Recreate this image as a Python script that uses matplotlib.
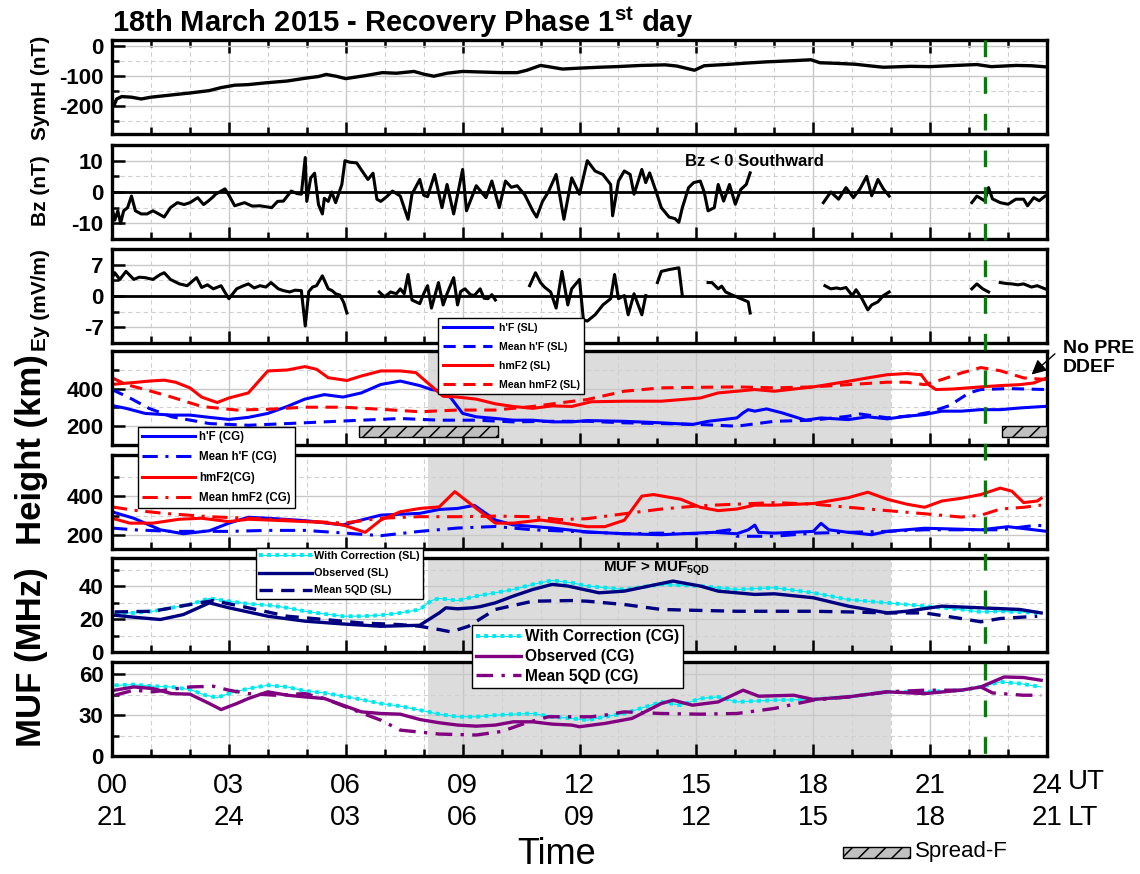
import numpy as np
import matplotlib.pyplot as plt
from matplotlib.patches import Rectangle
from matplotlib.lines import Line2D
from matplotlib.transforms import blended_transform_factory

plt.rcParams['font.family'] = ['Liberation Sans', 'DejaVu Sans']
plt.rcParams['hatch.linewidth'] = 1.1

nan = np.nan

# ---------------- data (UT hours) ----------------
symh_t = [0.0, 0.05, 0.12, 0.25, 0.5, 0.75, 1.0, 1.5, 2.0, 2.5, 2.8, 3.15, 3.5, 3.95, 4.5, 5.0, 5.3,
          5.5, 5.75, 6.0, 6.5, 6.94, 7.3, 7.75, 8.0, 8.26, 8.6, 9.0, 9.5, 10.0, 10.4, 10.65, 11.0,
          11.2, 11.56, 12.0, 12.5, 12.94, 13.58, 14.2, 14.5, 14.95, 15.2, 15.87, 16.3, 16.8, 17.5,
          17.94, 18.17, 18.6, 19.08, 19.5, 19.8, 20.5, 21.0, 21.65, 22.2, 22.57, 23.2, 23.6, 24.0]
symh = [-195, -200, -178, -170, -172, -178, -172, -165, -158, -150, -140, -132, -130, -124, -118,
        -108, -103, -96, -102, -110, -100, -90, -92, -86, -95, -102, -92, -86, -88, -90, -90, -82,
        -66, -70, -78, -75, -72, -70, -66, -64, -68, -82, -67, -62, -58, -54, -50, -47, -57, -59,
        -62, -68, -72, -69, -70, -66, -63, -70, -66, -67, -71]

bz_t = [0.0, 0.07, 0.15, 0.22, 0.3, 0.4, 0.5, 0.6, 0.75, 0.9, 1.05, 1.2, 1.34, 1.5, 1.68, 1.85, 2.0,
        2.2, 2.35, 2.46, 2.6, 2.66, 2.9, 3.0, 3.15, 3.4, 3.6, 3.8, 4.1, 4.25, 4.4, 4.6, 4.75, 4.86,
        4.96, 5.0, 5.1, 5.2, 5.3, 5.4, 5.45, 5.55, 5.64, 5.74, 5.9, 5.98, 6.1, 6.28, 6.42, 6.57, 6.7,
        6.8, 6.9, 7.05, 7.2, 7.4, 7.6, 7.7, 7.9, 8.0, 8.1, 8.28, 8.47, 8.6, 8.77, 9.0, 9.1, 9.35,
        9.6, 9.75, 9.94, 10.1, 10.25, 10.4, 10.6, 10.8, 10.9, 11.05, 11.2, 11.4, 11.6, 11.8, 12.0,
        12.2, 12.4, 12.6, 12.8, 12.85, 13.0, 13.15, 13.3, 13.4, 13.6, 13.7, 13.8, 13.97, 14.1, 14.3,
        14.45, 14.55, 14.64, 14.8, 14.93, 15.1, 15.2, 15.3, 15.46, 15.56, 15.7, 15.85, 16.0, 16.14,
        16.28, 16.38, 17.3,
        18.26, 18.45, 18.65, 18.84, 19.03, 19.2, 19.37, 19.5, 19.66, 19.8, 19.95, 21.0,
        22.07, 22.2, 22.4, 22.5, 22.6, 22.8, 23.0, 23.2, 23.4, 23.5, 23.66, 23.8, 23.95]
bz = [-5, -9, -6, -10, -6, -5, -1.3, -6, -7, -7, -6, -7, -8, -5, -3.4, -4, -3.4, -1.8, -4, -3, -1.5,
      -0.7, 1, -1, -4.4, -3.4, -4.5, -4.4, -5, -3, -2.9, 0.3, -0.5, -0.7, 11, -3, 4.5, 6, -4, -7, -2,
      -3, 0, -3.4, 2.4, 10, 9.5, 9.3, 6.7, 4, 6, -2.3, -3, -1.5, 0.3, -1.3, -8.7, -0.7, 4, -1, -1.5,
      5.6, -5, 2.4, -7, 7.2, -6, 2, -1.8, 3.5, -5, 3.5, 1.5, 2, -1, -6, -8, -3, 0, 5.6, -8.7, 4.5,
      -0.7, 10, 6.7, 5.6, 2.4, -7.6, 3.5, 6.7, 5.6, -0.7, 7.2, 3, 6.1, 0, -5, -8, -8.5, -9.7, -5,
      1.4, 3, 3.5, 0, -6, -5, 2.4, -2.9, 2.4, -3.9, 0.8, 2.4, 6.1, nan,
      -3.4, 0, -2.3, 1.4, -1.8, 1, 5, -1.2, 4, 1, -1.3, nan,
      -3.4, -1.3, -2.8, 1.4, -2.2, -3.4, -3.9, -2.3, -2.3, -4.4, -1.8, -2.8, -1.3]

ey_t = [0.0, 0.07, 0.2, 0.36, 0.56, 0.7, 0.85, 1.05, 1.24, 1.34, 1.5, 1.73, 1.93, 2.05, 2.17, 2.3,
        2.45, 2.6, 2.8, 2.9, 3.0, 3.2, 3.35, 3.5, 3.65, 3.8, 3.95, 4.08, 4.27, 4.4, 4.56, 4.7, 4.86,
        4.96, 5.05, 5.15, 5.25, 5.4, 5.55, 5.65, 5.74, 5.85, 5.95, 6.03, 6.4,
        6.86, 7.0, 7.15, 7.3, 7.4, 7.5, 7.6, 7.7, 7.9, 8.0, 8.1, 8.2, 8.38, 8.5, 8.6, 8.77, 8.87,
        8.95, 9.06, 9.2, 9.3, 9.45, 9.55, 9.65, 9.75, 9.84, 10.3,
        10.72, 10.87, 11.0, 11.1, 11.26, 11.4, 11.55, 11.7, 11.8, 12.0, 12.1, 12.2, 12.4, 12.6,
        12.8, 12.9, 13.0, 13.15, 13.25, 13.4, 13.6, 13.7, 13.85,
        14.0, 14.1, 14.3, 14.55, 14.64, 15.0,
        15.3, 15.4, 15.56, 15.65, 15.75, 15.95, 16.14, 16.33, 16.38, 17.3,
        18.3, 18.45, 18.6, 18.7, 18.84, 19.0, 19.1, 19.25, 19.4, 19.5, 19.66, 19.8, 19.95, 21.0,
        22.07, 22.2, 22.35, 22.5, 22.65,
        22.8, 22.95, 23.1, 23.25, 23.4, 23.6, 23.75, 23.95]
ey = [4, 5.2, 3.7, 5.5, 3.7, 4.2, 4.1, 3.7, 4.8, 5.2, 3.7, 2.7, 2.3, 3.2, 4.1, 1.9, 2.5, 1.6, 2.3,
      0.8, -0.6, 1.6, 2.2, 2.7, 1.8, 2.3, 2.0, 3, 1.6, 1.2, 0.9, 1.3, 1.2, -6.7, 1.0, 2.0, 2.3, 4.5,
      1.6, 1.2, 0.5, 0.2, -1.5, -3.8, nan,
      0.9, -0.2, 0.9, 0.5, 1.6, 0.5, 4.8, -0.9, -1.7, 0.5, 2.3, -2.7, 3, -2, 0.5, 4.1, -2, 1, 1.6,
      0.3, 0.1, 1.6, -0.5, -0.6, 0.3, -0.9, nan,
      2.3, 5.2, 3, 2.0, 0.9, -2.7, 5.5, -2, 1.6, 3.7, -5.3, -5.6, -4.2, -2, -0.6, 4.8, -0.6, 0.1,
      -4.2, 0.5, -4.2, 0.1, nan,
      3, 5.5, 5.9, 6.3, 0, nan,
      3, 3, 1.6, 2.2, 0.9, 0.1, -0.6, -1.3, -3.8, nan,
      2.3, 1.6, 1.8, 1.6, 1.9, 0.1, 1.4, -0.6, -3.1, -2, -1.3, 0.1, 0.9, nan,
      1.6, 2.7, 1.6, 0.9, nan,
      3, 2.8, 2.7, 2.5, 2.7, 2.0, 2.3, 1.6]

# Sao Luis heights (km)
hmf2_sl_t = [0, 0.26, 0.65, 0.95, 1.34, 1.63, 2.0, 2.3, 2.7, 3.0, 3.5, 4.0, 4.5, 4.95, 5.25, 5.55,
             6.03, 6.4, 6.9, 7.4, 7.8, 8.1, 8.5, 8.87, 9.35, 9.84, 10.3, 10.8, 11.3, 11.8, 12.3,
             13.15, 14.1, 15.1, 15.56, 16.04, 16.5, 17.0, 18.0, 18.9, 19.4, 19.9, 20.4, 20.77,
             20.96, 21.15, 21.6, 22.3, 22.8, 23.3, 23.66, 24.0]
hmf2_sl = [422, 427, 434, 440, 445, 434, 404, 355, 326, 350, 377, 494, 499, 517, 503, 458, 443, 467,
           494, 494, 485, 431, 359, 355, 344, 319, 305, 295, 308, 305, 330, 333, 333, 350, 377, 386,
           395, 386, 409, 439, 457, 474, 480, 474, 421, 395, 398, 409, 416, 421, 430, 457]
mhmf2_sl_t = [0, 0.36, 0.85, 1.53, 2.3, 3.2, 4.0, 4.95, 5.93, 6.9, 7.9, 8.87, 9.84, 10.8, 11.8,
              12.2, 13.15, 14.1, 15.1, 16.04, 17.0, 18.0, 18.9, 19.9, 20.4, 20.86, 21.3, 21.8,
              22.3, 22.8, 23.4, 24.0]
mhmf2_sl = [458, 422, 395, 355, 305, 286, 290, 301, 301, 290, 277, 286, 286, 305, 332, 342, 386,
            404, 407, 409, 404, 409, 421, 434, 434, 421, 448, 483, 512, 495, 457, 448]
hpf_sl_t = [0, 0.36, 0.85, 1.53, 2.0, 2.5, 3.0, 3.5, 4.0, 4.5, 4.95, 5.45, 5.93, 6.4, 6.9, 7.4, 7.9,
            8.2, 8.5, 8.7, 9.0, 9.35, 9.84, 10.3, 10.8, 11.3, 11.8, 12.2, 13.15, 14.1, 14.9, 15.3,
            16.04, 16.2, 16.33, 16.5, 16.8, 17.2, 17.8, 18.2, 18.9, 19.4, 19.9, 20.4, 20.86, 21.3,
            21.8, 22.3, 22.8, 23.3, 24.0]
hpf_sl = [310, 295, 268, 259, 259, 247, 236, 247, 268, 305, 344, 368, 355, 377, 422, 440, 416, 395,
          386, 350, 268, 250, 241, 232, 232, 223, 223, 230, 226, 218, 209, 226, 244, 271, 288, 280,
          292, 271, 232, 244, 235, 250, 239, 253, 262, 280, 280, 288, 288, 297, 306]
mhpf_sl_t = [0, 0.46, 0.95, 1.53, 2.5, 3.5, 4.5, 5.45, 6.4, 7.4, 8.4, 9.35, 10.3, 11.2, 12.2, 13.15,
             14.1, 15.1, 16.04, 17.0, 18.0, 18.9, 19.2, 19.9, 20.5, 21.0, 21.5, 22.0, 22.3, 23.0, 24.0]
mhpf_sl = [395, 350, 295, 250, 214, 205, 214, 223, 232, 241, 232, 232, 223, 226, 226, 218, 214, 209,
           200, 226, 232, 253, 265, 245, 255, 275, 310, 377, 395, 400, 395]

# Cachoeira Paulista heights (km)
hmf2_cg_t = [0, 0.46, 1.05, 1.73, 2.3, 3.0, 3.5, 4.0, 4.95, 5.45, 5.93, 6.5, 6.9, 7.4, 7.9, 8.4, 8.8,
             9.25, 9.84, 10.3, 11.0, 11.6, 12.2, 12.65, 13.15, 13.6, 13.9, 14.6, 15.1, 15.56, 16.04,
             16.5, 17.0, 18.0, 18.9, 19.4, 19.9, 20.4, 20.86, 21.3, 21.8, 22.3, 22.8, 23.1, 23.4,
             23.75, 23.85]
hmf2_cg = [287, 262, 262, 282, 287, 270, 282, 278, 270, 265, 253, 215, 278, 320, 337, 345, 423, 353,
           262, 262, 278, 262, 244, 244, 277, 400, 408, 384, 343, 326, 334, 354, 354, 362, 392, 420,
           384, 359, 343, 375, 389, 408, 441, 425, 367, 375, 389]
mhmf2_cg_t = [0, 0.56, 1.34, 2.5, 3.5, 4.5, 5.93, 6.9, 7.9, 8.87, 9.84, 10.8, 11.5, 12.2, 13.15,
              14.1, 15.1, 16.04, 17.0, 18.0, 18.9, 19.9, 20.86, 21.8, 22.3, 22.8, 23.4, 23.85]
mhmf2_cg = [345, 328, 312, 295, 287, 278, 262, 287, 295, 295, 298, 295, 280, 285, 310, 334, 351,
            359, 367, 359, 343, 326, 310, 293, 302, 334, 343, 354]
hpf_cg_t = [0, 0.56, 1.24, 1.83, 2.5, 3.0, 3.5, 4.0, 4.95, 5.93, 6.4, 6.9, 7.9, 8.4, 8.87, 9.3, 9.84,
            10.3, 11.3, 12.2, 13.15, 14.1, 15.46, 16.04, 16.33, 16.5, 16.6, 17.0, 18.0, 18.2, 18.4,
            18.9, 19.5, 19.9, 20.86, 21.8, 22.3, 23.0, 24.0]
hpf_cg = [320, 287, 228, 208, 223, 262, 292, 287, 275, 253, 278, 303, 312, 332, 337, 353, 278, 253,
          237, 217, 208, 203, 215, 208, 228, 252, 215, 211, 220, 261, 228, 215, 203, 220, 236, 231,
          228, 244, 220]
mhpf_cg_t = [0, 0.56, 1.53, 3.0, 4.0, 4.95, 5.93, 6.9, 7.9, 8.87, 9.84, 10.8, 11.8, 13.15, 14.1, 15.1,
             15.85, 16.04, 17.0, 18.0, 18.9, 19.9, 20.86, 21.8, 22.8, 23.75, 24.0]
mhpf_cg = [237, 228, 220, 220, 225, 225, 212, 198, 220, 237, 245, 228, 220, 208, 211, 208, 228, 195,
           195, 211, 215, 220, 228, 228, 228, 252, 244]

# MUF Sao Luis (MHz)
muf_corr_sl_t = [0.07, 0.56, 1.05, 1.53, 2.0, 2.5, 3.0, 3.5, 4.0, 4.5, 4.95, 5.45, 5.93, 6.4, 6.9,
                 7.4, 7.9, 8.2, 8.4, 8.87, 9.35, 9.84, 10.3, 10.8, 11.3, 11.8, 12.2, 13.15, 14.1,
                 15.1, 16.04, 17.0, 18.0, 18.9, 19.9, 20.86, 21.8, 22.3, 22.8, 23.85]
muf_corr_sl = [23.7, 23.7, 24.7, 26.8, 28.8, 32.5, 30.8, 29.2, 28.4, 26.8, 24.7, 23.1, 21.7, 21.7,
               22.3, 23.7, 25.8, 31.2, 32.5, 31.2, 33.9, 35.9, 37.9, 41, 43.4, 42, 40, 37.9, 41, 40,
               37.9, 39, 35.9, 31.8, 29.8, 27.8, 25.8, 24.3, 24.7, 23.7]
muf_obs_sl_t = [0.07, 0.56, 1.24, 1.83, 2.5, 3.0, 4.0, 4.95, 5.93, 6.9, 7.9, 8.4, 8.57, 8.87, 9.25,
                9.45, 9.84, 10.3, 10.8, 11.3, 11.7, 12.5, 13.15, 14.4, 15.1, 15.56, 16.5, 17.0,
                18.0, 18.9, 19.9, 20.4, 21.3, 22.3, 23.3, 23.85]
muf_obs_sl = [22.3, 21.1, 19.7, 22.7, 29.8, 26.8, 21.7, 18.7, 17, 15.6, 16.2, 23.7, 26.8, 26.2,
              26.8, 27.5, 29.8, 33.9, 37.9, 41, 40, 35.9, 36.9, 43, 40, 36.9, 34.9, 35.3, 32.9,
              27.8, 23.7, 24.7, 27.8, 26.8, 25.8, 23.7]
muf_5qd_sl_t = [0.07, 1.05, 2.0, 2.6, 3.5, 4.5, 5.45, 6.4, 7.4, 7.9, 8.4, 8.7, 9.15, 9.84, 10.8,
                11.8, 12.2, 13.15, 14.1, 15.1, 16.04, 17.0, 18.0, 18.9, 19.9, 20.86, 21.8, 22.3,
                22.8, 23.75]
muf_5qd_sl = [24.3, 24.7, 28.8, 31.2, 26.8, 21.7, 19.7, 17.6, 16.6, 15.6, 13.6, 12.2, 15.6, 25.8,
              30.8, 31.2, 30.8, 28.8, 25.8, 25.2, 24.7, 24.7, 24.7, 24.3, 23.7, 23.7, 20.3, 18.3,
              20.3, 21.7]

# MUF Cachoeira Paulista (MHz)
muf_corr_cg_t = [0.07, 0.56, 1.05, 1.53, 2.0, 2.4, 2.7, 3.0, 3.5, 4.0, 4.5, 4.95, 5.45, 5.93, 6.4,
                 6.9, 7.4, 7.9, 8.4, 8.87, 9.35, 9.84, 10.3, 10.8, 11.3, 11.8, 12.2, 12.65, 13.15,
                 14.1, 14.6, 15.1, 15.56, 16.04, 17.0, 18.0, 18.9, 19.9, 20.86, 21.8, 22.3, 22.8,
                 23.3, 23.85]
muf_corr_cg = [51.9, 52.4, 51.2, 50.7, 48.8, 44.6, 42.9, 45.8, 49.5, 51.9, 50.7, 47.8, 46.3, 43.9,
               41.5, 38.5, 36.6, 33.7, 30.7, 28.8, 28.8, 30, 30.7, 31.2, 28.8, 27.6, 26.3, 28.8,
               31.2, 39.7, 37.3, 42.2, 43.4, 39.7, 41, 41.5, 43.4, 47.1, 47.1, 48.3, 50.7, 54.4,
               53.2, 50.7]
muf_obs_cg_t = [0.07, 0.56, 1.05, 1.53, 2.0, 2.5, 2.8, 3.2, 3.5, 4.0, 4.5, 4.95, 5.45, 5.93, 6.4,
                6.9, 7.4, 7.9, 8.4, 8.87, 9.35, 9.84, 10.3, 10.8, 11.3, 11.8, 12.0, 12.65, 13.35,
                14.1, 14.4, 14.9, 15.56, 16.2, 16.6, 17.5, 18.0, 18.9, 19.9, 20.86, 21.8, 22.3,
                22.9, 23.4, 23.85]
muf_obs_cg = [48.3, 50.7, 49.5, 45.8, 45.4, 38.5, 34.1, 38.5, 42.2, 47.1, 44.6, 43.4, 42.2, 37.3,
              32.4, 31.2, 30.7, 26.8, 24.4, 22.7, 21.9, 22.7, 25.1, 25.1, 23.4, 22.7, 21.5, 23.9,
              27.6, 38.5, 41, 37.3, 39.7, 48.3, 43.9, 44.6, 41.5, 43.4, 47.1, 45.8, 48.3, 50.7, 58,
              57.6, 55.6]
muf_5qd_cg_t = [0.07, 0.56, 1.05, 2.0, 2.6, 3.0, 3.5, 4.2, 4.95, 5.45, 6.1, 6.9, 7.4, 8.4, 9.35,
                10.0, 10.6, 11.2, 12.3, 12.65, 13.15, 14.1, 15.1, 16.04, 17.0, 18.0, 18.9, 19.9,
                20.86, 21.8, 22.3, 22.6, 23.4, 23.85]
muf_5qd_cg = [44.6, 48.3, 47.1, 50.7, 51.2, 48.3, 45.8, 44.6, 45.8, 42.2, 34.9, 26.3, 19, 16.1,
              15.4, 18, 24, 28.8, 28.8, 30, 32.4, 31.2, 30.7, 31.2, 34.9, 41, 43.4, 47.1, 48.3,
              48.3, 50.7, 46.3, 44.6, 44.6]

ut_labels = ['00', '03', '06', '09', '12', '15', '18', '21', '24']
lt_labels = ['21', '24', '03', '06', '09', '12', '15', '18', '21']
disturbed = (8.1, 20.0)        # grey shaded interval
event_time = 22.4              # green dashed line
spread_f_sl = [(6.35, 9.9), (22.85, 24.0)]

# ---------------- figure ----------------
W, H = 1140, 874
fig = plt.figure(figsize=(W / 100, H / 100), dpi=100)
left, right = 112, 1047
tops = [40, 145, 249, 351, 455, 558, 662]
ph = 94
axes = [fig.add_axes([left / W, 1 - (t + ph) / H, (right - left) / W, ph / H]) for t in tops]


def style(ax, ylim, major, minor):
    ax.set_xlim(0, 24)
    ax.set_ylim(*ylim)
    ax.set_xticks(np.arange(0, 25, 3))
    ax.set_xticks(np.arange(0, 25, 1), minor=True)
    ax.set_yticks(major)
    ax.set_yticks(minor, minor=True)
    ax.set_yticklabels([str(m) for m in major], fontsize=16, fontweight='bold')
    ax.grid(which='major', color='#c8c8c8', lw=1.0, ls='-')
    ax.grid(which='minor', color='#d0d0d0', lw=0.8, ls=(0, (4, 3)))
    ax.set_axisbelow(True)
    ax.tick_params(which='both', direction='in', width=1.8, colors='black')
    ax.tick_params(which='major', length=9)
    ax.tick_params(which='minor', length=5)
    ax.tick_params(axis='y', pad=6)
    ax.tick_params(axis='x', labelbottom=False)
    for s in ax.spines.values():
        s.set_linewidth(2.4)


def add_legend(ax, handles, labels, x0, y0, size, hl, tpad, lsp, bpad):
    leg = ax.legend(handles=handles, labels=labels, loc='upper left',
                    bbox_to_anchor=(x0 / W, 1 - y0 / H), bbox_transform=fig.transFigure,
                    borderaxespad=0, fancybox=False, framealpha=1, edgecolor='black',
                    prop={'weight': 'bold', 'size': size},
                    handlelength=hl, handletextpad=tpad, labelspacing=lsp, borderpad=bpad)
    leg.get_frame().set_linewidth(1.0)
    return leg


style(axes[0], (-295, 19), [-200, -100, 0], [-250, -150, -50])
style(axes[1], (-15, 15), [-10, 0, 10], [-5, 5])
style(axes[2], (-10.5, 10.5), [-7, 0, 7], [-3.5, 3.5])
style(axes[3], (100, 600), [200, 400], [300, 500])
style(axes[4], (130, 610), [200, 400], [300, 500])
style(axes[5], (0, 57), [0, 20, 40], [10, 30, 50])
style(axes[6], (0, 69), [0, 30, 60], [15, 45])
axes[0].tick_params(which='both', top=True)

ax7 = axes[6]
ax7.tick_params(axis='x', labelbottom=True, labelsize=20, pad=12)
ax7.set_xticklabels([u + '\n' + l for u, l in zip(ut_labels, lt_labels)], linespacing=1.3)

# shaded interval
for ax in axes[3:]:
    ax.axvspan(*disturbed, color='#dcdcdc', zorder=0, lw=0)

# panel 1-3
axes[0].plot(symh_t, symh, color='black', lw=2.4)
axes[1].axhline(0, color='black', lw=2.0)
axes[1].plot(bz_t, bz, color='black', lw=2.2)
axes[2].axhline(0, color='black', lw=2.0)
axes[2].plot(ey_t, ey, color='black', lw=2.2)
axes[1].text(14.7, 9.7, 'Bz < 0 Southward', fontsize=12, fontweight='bold', va='center')

# heights
dash_sl = (0, (4, 2.5))
dash_cg = (0, (5, 2.5, 1, 2.5))
ax4, ax5 = axes[3], axes[4]
l1, = ax4.plot(hpf_sl_t, hpf_sl, color='#0000ff', lw=2.2)
l2, = ax4.plot(mhpf_sl_t, mhpf_sl, color='#0000ff', lw=2.2, ls=dash_sl)
l3, = ax4.plot(hmf2_sl_t, hmf2_sl, color='#ff0000', lw=2.2)
l4, = ax4.plot(mhmf2_sl_t, mhmf2_sl, color='#ff0000', lw=2.2, ls=dash_sl)
for a, b in spread_f_sl:
    ax4.add_patch(Rectangle((a, 140), b - a, 60, facecolor='#c0c0c0', edgecolor='black',
                            hatch='//', lw=1.0, zorder=3, clip_on=True))
add_legend(ax4, [l1, l2, l3, l4], ["h'F (SL)", "Mean h'F (SL)", 'hmF2 (SL)', 'Mean hmF2 (SL)'],
           438, 318, 7.6, 4.7, 0.6, 0.85, 0.45)
ax4.annotate('', xy=(23.55, 465), xytext=(1057 / W, 1 - 352 / H), textcoords='figure fraction',
             arrowprops=dict(arrowstyle='-|>', color='black', lw=1.0, mutation_scale=22))
fig.text(1063 / W, 1 - 358 / H, 'No PRE\nDDEF', fontsize=14, fontweight='bold', va='center',
         linespacing=1.2)

m1, = ax5.plot(hpf_cg_t, hpf_cg, color='#0000ff', lw=2.2)
m2, = ax5.plot(mhpf_cg_t, mhpf_cg, color='#0000ff', lw=2.2, ls=dash_cg)
m3, = ax5.plot(hmf2_cg_t, hmf2_cg, color='#ff0000', lw=2.2)
m4, = ax5.plot(mhmf2_cg_t, mhmf2_cg, color='#ff0000', lw=2.2, ls=dash_cg)
add_legend(ax5, [m1, m2, m3, m4], ["h'F (CG)", "Mean h'F (CG)", 'hmF2(CG)', 'Mean hmF2 (CG)'],
           138, 427, 8.3, 4.6, 0.35, 0.72, 0.35)

# MUF
cyan = '#00e8f0'
ax6 = axes[5]
c1a, = ax6.plot(muf_corr_sl_t, muf_corr_sl, color=cyan, lw=0.8)
c1b, = ax6.plot(muf_corr_sl_t, muf_corr_sl, color=cyan, lw=2.8, ls=(0, (1, 1.1)),
                dash_capstyle='butt')
c2, = ax6.plot(muf_obs_sl_t, muf_obs_sl, color='#000080', lw=2.4)
c3, = ax6.plot(muf_5qd_sl_t, muf_5qd_sl, color='#000080', lw=2.4, ls=dash_sl)
ax6.text(12.6, 50.7, 'MUF > MUF$_{\\mathregular{5QD}}$', fontsize=11, fontweight='bold', va='center')
add_legend(ax6, [(c1a, c1b), c2, c3], ['With Correction (SL)', 'Observed (SL)', 'Mean 5QD (SL)'],
           256, 548, 7.8, 4.9, 0.2, 0.65, 0.3)

d1a, = ax7.plot(muf_corr_cg_t, muf_corr_cg, color=cyan, lw=0.8)
d1b, = ax7.plot(muf_corr_cg_t, muf_corr_cg, color=cyan, lw=2.8, ls=(0, (1, 1.1)),
                dash_capstyle='butt')
d2, = ax7.plot(muf_obs_cg_t, muf_obs_cg, color='#800080', lw=2.4)
d3, = ax7.plot(muf_5qd_cg_t, muf_5qd_cg, color='#800080', lw=2.4, ls=dash_cg)
add_legend(ax7, [(d1a, d1b), d2, d3], ['With Correction (CG)', 'Observed (CG)', 'Mean 5QD (CG)'],
           472, 625, 11.2, 2.9, 0.2, 0.3, 0.28)

# green dashed event line across all panels
trans = blended_transform_factory(axes[0].transData, fig.transFigure)
fig.add_artist(Line2D([event_time, event_time], [1 - tops[0] / H, 1 - (tops[-1] + ph) / H],
                      transform=trans, color='#008000', lw=2.4, ls=(0, (5, 6)), zorder=10))

# labels
fig.text(112 / W, 1 - 22 / H, '18th March 2015 - Recovery Phase 1$^{\\mathregular{st}}$ day',
         fontsize=21, fontweight='bold', va='center')
for txt, yc in [('SymH (nT)', 88), ('Bz (nT)', 191), ('Ey (mV/m)', 300)]:
    fig.text(40 / W, 1 - yc / H, txt, rotation=90, ha='center', va='center', fontsize=15,
             fontweight='bold')
fig.text(32 / W, 1 - 450 / H, 'Height (km)', rotation=90, ha='center', va='center', fontsize=25,
         fontweight='bold')
fig.text(32 / W, 1 - 657 / H, 'MUF (MHz)', rotation=90, ha='center', va='center', fontsize=25,
         fontweight='bold')
fig.text(1068 / W, 1 - 782 / H, 'UT', fontsize=20, va='center')
fig.text(1068 / W, 1 - 818 / H, 'LT', fontsize=20, va='center')
fig.text(557 / W, 1 - 855 / H, 'Time', fontsize=26, ha='center', va='center')

# Spread-F key
fig.add_artist(Rectangle((843 / W, 1 - 858 / H), 67 / W, 11 / H, transform=fig.transFigure,
                         facecolor='#c0c0c0', edgecolor='black', hatch='//', lw=1.0))
fig.text(915 / W, 1 - 852 / H, 'Spread-F', fontsize=16, va='center')

fig.savefig('out.png', dpi=100)
